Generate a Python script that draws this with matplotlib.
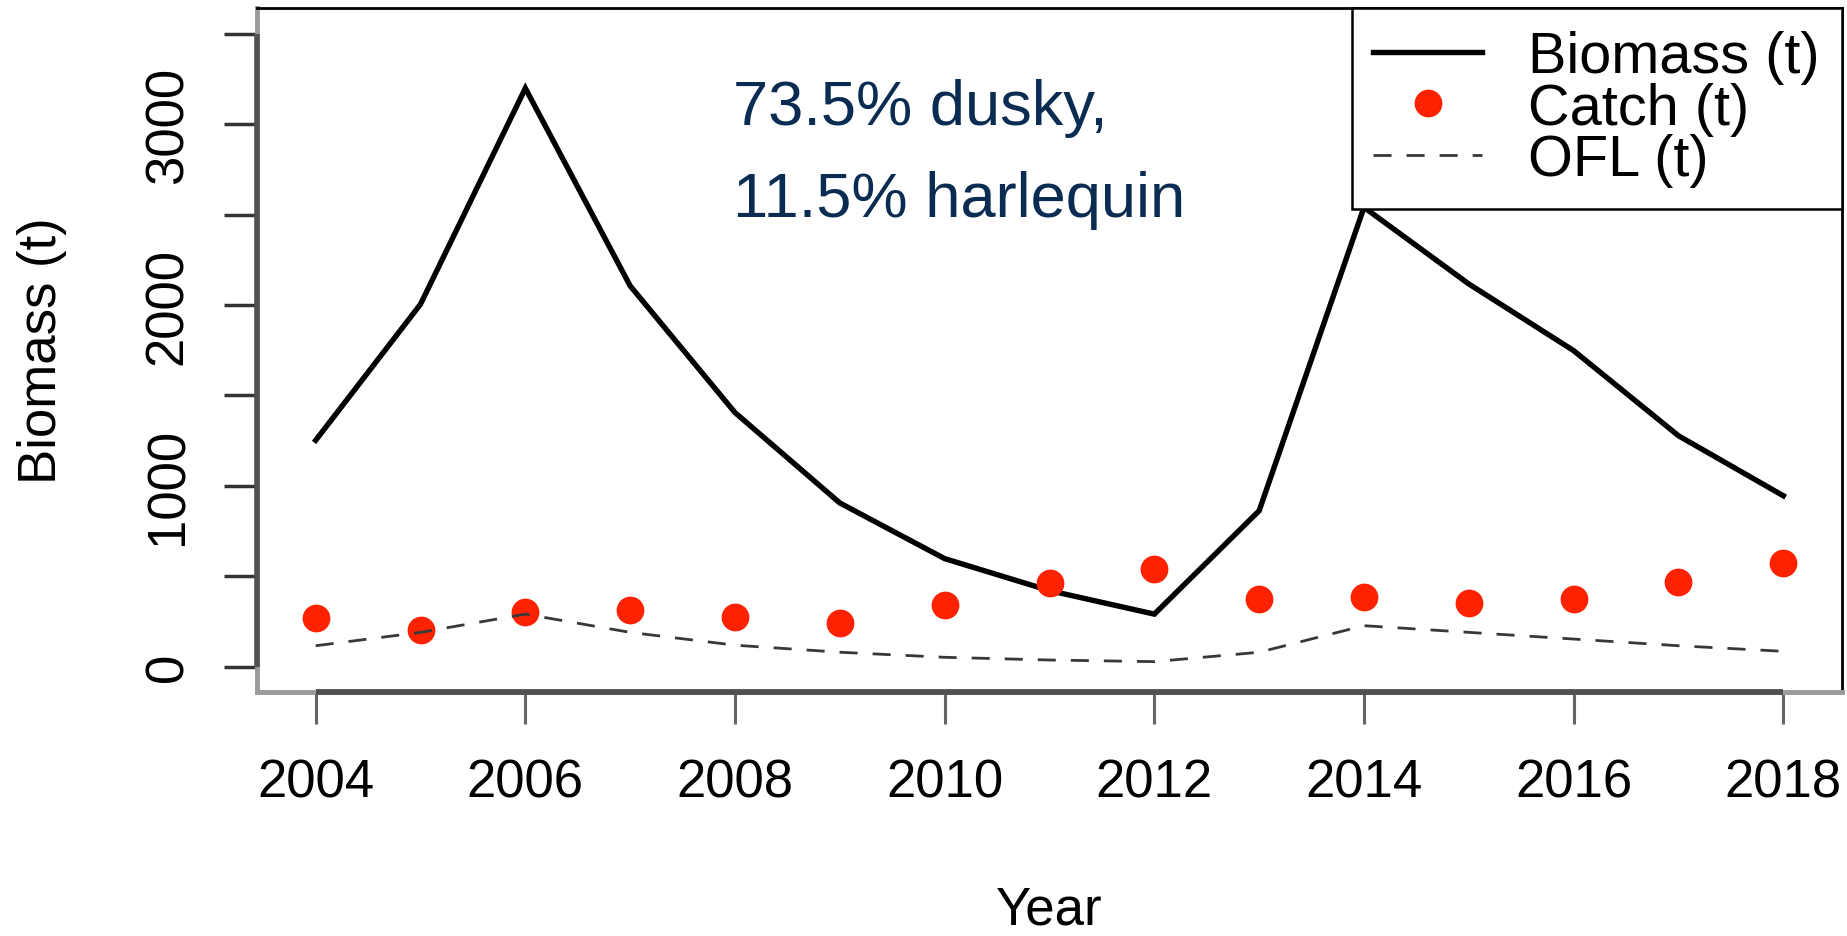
import matplotlib
matplotlib.use("Agg")
import matplotlib.pyplot as plt

plt.rcParams['font.family'] = ['Liberation Sans', 'DejaVu Sans']

years = [2004, 2005, 2006, 2007, 2008, 2009, 2010, 2011, 2012, 2013, 2014, 2015, 2016, 2017, 2018]
biomass = [1252, 2005, 3200, 2106, 1405, 905, 597, 420, 290, 862, 2541, 2117, 1748, 1277, 945]
catch = [268, 202, 302, 313, 272, 239, 342, 464, 540, 374, 386, 351, 374, 466, 573]
ofl = [115, 189, 290, 189, 118, 79, 51, 36, 27, 79, 226, 189, 152, 115, 84]

xtick_vals = [2004, 2006, 2008, 2010, 2012, 2014, 2016, 2018]
ytick_vals = [0, 500, 1000, 1500, 2000, 2500, 3000, 3500]
ytick_labels = ['0', '', '1000', '', '2000', '', '3000', '']
annotation_lines = ['73.5% dusky,', '11.5% harlequin']

W, H = 1847, 937
fig = plt.figure(figsize=(W / 100, H / 100), dpi=100)
ax = fig.add_axes([257 / W, (H - 693) / H, 1585 / W, 684 / H])

ax.plot(years, biomass, color='black', lw=3.9, label='Biomass (t)', solid_joinstyle='miter')
ax.plot(years, catch, linestyle='none', marker='o', ms=20, color='#FF2200',
        markeredgewidth=0, label='Catch (t)')
ax.plot(years, ofl, color='#383838', lw=2.0, linestyle=(0, (6.5, 5.4)), label='OFL (t)')

ax.set_xlim(2003.44, 2018.56)
ax.set_ylim(-141, 3644)

ax.set_xticks(xtick_vals)
ax.set_xticklabels([str(v) for v in xtick_vals])
ax.set_yticks(ytick_vals)
ax.set_yticklabels(ytick_labels, rotation=90, va='center')

ax.tick_params(axis='x', length=23, width=2.2, color='#666666', pad=24, labelsize=38)
ax.tick_params(axis='y', length=24, width=2.5, color='#333333', pad=22, labelsize=38)

for s in ['top', 'right']:
    ax.spines[s].set_color('black')
    ax.spines[s].set_linewidth(2.0)
for s in ['left', 'bottom']:
    ax.spines[s].set_color('#9a9a9a')
    ax.spines[s].set_linewidth(3.5)

# R-style axis lines spanning the tick range
ax.plot([xtick_vals[0], xtick_vals[-1]], [0, 0], transform=ax.get_xaxis_transform(),
        color='#505050', lw=4.2, clip_on=False, solid_capstyle='butt', zorder=5)
ax.plot([0, 0], [ytick_vals[0], ytick_vals[-1]], transform=ax.get_yaxis_transform(),
        color='#505050', lw=4.0, clip_on=False, solid_capstyle='butt', zorder=5)

ax.set_xlabel('Year', fontsize=38)
ax.xaxis.set_label_coords(0.5, (693 - 925) / 684)
ax.xaxis.label.set_verticalalignment('baseline')
ax.set_ylabel('Biomass (t)', fontsize=38)
ax.yaxis.set_label_coords((56 - 257) / 1585, 0.5)
ax.yaxis.label.set_verticalalignment('baseline')

leg = ax.legend(loc='upper right', bbox_to_anchor=(1, 1), borderaxespad=0,
                fontsize=41.5, frameon=True, fancybox=False, framealpha=1,
                edgecolor='black', labelspacing=-0.04, borderpad=0.38,
                handlelength=1.89, handletextpad=0.80)
leg.get_frame().set_linewidth(1.8)

navy = '#0B2C52'
fig.text(733 / W, 1 - 125 / H, annotation_lines[0], fontsize=45.5, color=navy, va='baseline', ha='left')
fig.text(733 / W, 1 - 216.7 / H, annotation_lines[1], fontsize=45.5, color=navy, va='baseline', ha='left')

fig.savefig('out.png', dpi=100)
